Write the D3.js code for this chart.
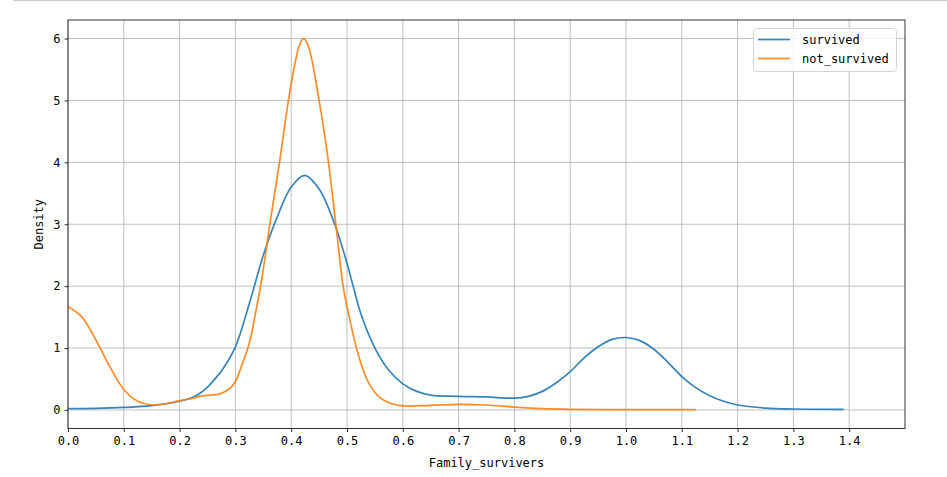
<!DOCTYPE html>
<html><head><meta charset="utf-8">
<script src="https://cdn.jsdelivr.net/npm/d3@7"></script>
<style>body{margin:0;background:#fff}</style>
</head><body>
<svg id="c" width="947" height="477"></svg>
<script>
const survivedX = [0,0.05,0.1,0.15,0.2,0.225,0.2366,0.25,0.266,0.275,0.3,0.325,0.35,0.375,0.4,0.424,0.45,0.478,0.5,0.511,0.525,0.55,0.575,0.6,0.625,0.65,0.7,0.75,0.8,0.825,0.85,0.875,0.9,0.925,0.95,0.975,1.0,1.025,1.05,1.075,1.1,1.125,1.15,1.175,1.2,1.25,1.3,1.39];
const survivedY = [0.02,0.025,0.04,0.07,0.14,0.21,0.27,0.37,0.53,0.63,1.02,1.72,2.5,3.12,3.6,3.79,3.57,3.0,2.37,2.0,1.55,1.0,0.64,0.42,0.3,0.24,0.22,0.21,0.19,0.22,0.3,0.44,0.62,0.84,1.02,1.14,1.17,1.12,0.98,0.77,0.54,0.36,0.23,0.14,0.08,0.03,0.015,0.01];
const notSurvivedX = [0,0.025,0.05,0.075,0.1,0.125,0.15,0.175,0.2,0.225,0.2366,0.255,0.272,0.2905,0.3,0.313,0.325,0.337,0.346,0.355,0.362,0.379,0.395,0.408,0.415,0.422,0.429,0.436,0.45,0.464,0.48,0.493,0.5,0.517,0.53,0.541,0.559,0.58,0.6,0.65,0.7,0.75,0.8,0.85,0.9,1.0,1.125];
const notSurvivedY = [1.67,1.5,1.13,0.7,0.33,0.14,0.08,0.1,0.15,0.19,0.22,0.24,0.26,0.35,0.46,0.76,1.08,1.61,2.05,2.58,3.02,4.0,5.0,5.65,5.9,6.0,5.92,5.7,5.0,4.19,3.0,2.0,1.67,1.0,0.62,0.4,0.2,0.1,0.065,0.075,0.09,0.08,0.045,0.02,0.01,0.005,0.005];
const xTicks = [0,0.1,0.2,0.3,0.4,0.5,0.6,0.7,0.8,0.9,1.0,1.1,1.2,1.3,1.4];
const yTicks = [0,1,2,3,4,5,6];
const seriesNames = ["survived","not_survived"];
const seriesColors = ["#1f77b4","#ff7f0e"];

const svg = d3.select("#c");
const L=68,R=905,T=20,B=428.5;
const x = d3.scaleLinear().domain([0,1.5]).range([L,R]);
const y = d3.scaleLinear().domain([-0.3,6.3]).range([B,T]);
const font = "'DejaVu Sans Mono', monospace";

svg.append("rect").attr("x",13).attr("y",0).attr("width",934).attr("height",1.2).attr("fill","#d0d0d0");

// grid
const g = svg.append("g");
g.selectAll(".gx").data(xTicks).join("line").attr("x1",d=>x(d)).attr("x2",d=>x(d)).attr("y1",T).attr("y2",B).attr("stroke","#b0b0b0").attr("stroke-width",0.8);
g.selectAll(".gy").data(yTicks).join("line").attr("y1",d=>y(d)).attr("y2",d=>y(d)).attr("x1",L).attr("x2",R).attr("stroke","#b0b0b0").attr("stroke-width",0.8);

// lines
const line = d3.line().x(d=>x(d[0])).y(d=>y(d[1])).curve(d3.curveCatmullRom.alpha(0.5));
const data = [d3.zip(survivedX,survivedY), d3.zip(notSurvivedX,notSurvivedY)];
svg.append("defs").append("clipPath").attr("id","cp").append("rect").attr("x",L).attr("y",T).attr("width",R-L).attr("height",B-T);
data.forEach((d,i)=>{
  svg.append("path").datum(d).attr("d",line).attr("fill","none").attr("stroke",seriesColors[i]).attr("stroke-width",1.7).attr("stroke-opacity",0.9).attr("clip-path","url(#cp)");
});

// axes
const xa = svg.append("g").attr("transform",`translate(0,${B})`).call(d3.axisBottom(x).tickValues(xTicks).tickFormat(d3.format(".1f")).tickSize(3.5).tickPadding(4));
const ya = svg.append("g").attr("transform",`translate(${L},0)`).call(d3.axisLeft(y).tickValues(yTicks).tickFormat(d3.format("d")).tickSize(3.5).tickPadding(4));
[xa,ya].forEach(a=>{a.select(".domain").remove();a.selectAll("line").attr("stroke","#000").attr("stroke-width",0.8);a.selectAll("text").attr("font-family",font).attr("font-size",12).attr("fill","#000");});
svg.append("rect").attr("x",L).attr("y",T).attr("width",R-L).attr("height",B-T).attr("fill","none").attr("stroke","#000").attr("stroke-width",0.8);

svg.append("text").attr("x",(L+R)/2).attr("y",467).attr("text-anchor","middle").attr("font-family",font).attr("font-size",12).text("Family_survivers");
svg.append("text").attr("transform",`translate(42.5,${(T+B)/2}) rotate(-90)`).attr("text-anchor","middle").attr("font-family",font).attr("font-size",12).text("Density");

// legend
const lg = svg.append("g");
lg.append("rect").attr("x",753.5).attr("y",28.5).attr("width",143).attr("height",43).attr("rx",3).attr("fill","#fff").attr("fill-opacity",0.8).attr("stroke","#d5d5d5").attr("stroke-width",1);
seriesNames.forEach((n,i)=>{
  const yy = 39.5 + i*19;
  lg.append("line").attr("x1",758).attr("x2",790).attr("y1",yy).attr("y2",yy).attr("stroke",seriesColors[i]).attr("stroke-width",1.7).attr("stroke-opacity",0.9);
  lg.append("text").attr("x",802).attr("y",yy+4).attr("font-family",font).attr("font-size",12).text(n);
});
</script>
</body></html>
